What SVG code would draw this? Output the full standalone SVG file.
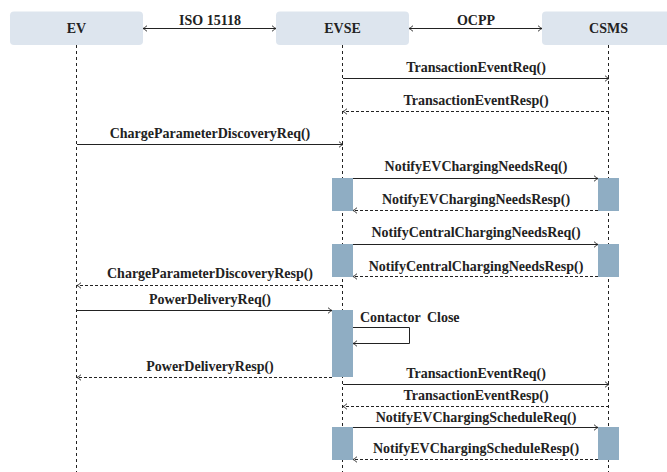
<svg xmlns="http://www.w3.org/2000/svg" width="667" height="472" viewBox="0 0 667 472">
  <defs>
    <style>
      .hdr { fill: #dde5ee; }
      .act { fill: #8fadc3; }
      .life { stroke: #222; stroke-width: 1; stroke-dasharray: 3 3; fill: none; }
      .msg { stroke: #222; stroke-width: 1; fill: none; marker-end: url(#tip); }
      .ret { stroke: #222; stroke-width: 1; fill: none; stroke-dasharray: 3 2; marker-end: url(#tip); }
      .both { stroke: #222; stroke-width: 1; fill: none; marker-start: url(#tip); marker-end: url(#tip); }
      text { font-family: "Liberation Serif", "Times New Roman", serif; font-weight: bold; font-size: 14px; fill: #222; }
      .c { text-anchor: middle; }
    </style>
    <marker id="tip" markerUnits="userSpaceOnUse" viewBox="-5 -4 6 8" refX="0" refY="0" markerWidth="6" markerHeight="8" orient="auto-start-reverse">
      <path d="M-4,-2.8 Q-1.5,-0.6 0,0 Q-1.5,0.6 -4,2.8" fill="none" stroke="#222" stroke-width="0.9"/>
    </marker>
  </defs>

  <!-- lifelines -->
  <g id="lifelines">
    <line class="life" x1="76.5" y1="45" x2="76.5" y2="472"/>
    <line class="life" x1="342.5" y1="45" x2="342.5" y2="472"/>
    <line class="life" x1="608.5" y1="45" x2="608.5" y2="472"/>
  </g>

  <!-- participants -->
  <g id="ev">
    <rect class="hdr" x="10" y="11.5" width="133" height="33.5" rx="4"/>
    <text class="c" x="76.5" y="33">EV</text>
  </g>
  <g id="evse">
    <rect class="hdr" x="276" y="11.5" width="133" height="33.5" rx="4"/>
    <text class="c" x="342.5" y="33">EVSE</text>
    <rect class="act" x="332" y="178" width="21" height="33"/>
    <rect class="act" x="332" y="244" width="21" height="33"/>
    <rect class="act" x="332" y="310" width="21" height="67"/>
    <rect class="act" x="332" y="427" width="21" height="33"/>
  </g>
  <g id="csms">
    <rect class="hdr" x="542" y="11.5" width="133" height="33.5" rx="4"/>
    <text class="c" x="608.5" y="33">CSMS</text>
    <rect class="act" x="598" y="178" width="21" height="33"/>
    <rect class="act" x="598" y="244" width="21" height="33"/>
    <rect class="act" x="598" y="427" width="21" height="33"/>
  </g>

  <!-- connectors -->
  <g id="connectors">
    <line class="both" x1="143" y1="28.5" x2="276" y2="28.5"/>
    <text class="c" x="210" y="25">ISO 15118</text>
    <line class="both" x1="409" y1="28.5" x2="542" y2="28.5"/>
    <text class="c" x="476" y="25">OCPP</text>

    <line class="msg" x1="343" y1="78.5" x2="609" y2="78.5"/>
    <text class="c" x="476" y="72">TransactionEventReq()</text>
    <line class="ret" x1="609" y1="111.5" x2="343" y2="111.5"/>
    <text class="c" x="476" y="105">TransactionEventResp()</text>

    <line class="msg" x1="77" y1="144.5" x2="343" y2="144.5"/>
    <text class="c" x="210" y="138">ChargeParameterDiscoveryReq()</text>

    <line class="msg" x1="353" y1="178.5" x2="598" y2="178.5"/>
    <text class="c" x="476" y="171">NotifyEVChargingNeedsReq()</text>
    <line class="ret" x1="598" y1="210.5" x2="353" y2="210.5"/>
    <text class="c" x="476" y="204">NotifyEVChargingNeedsResp()</text>

    <line class="msg" x1="353" y1="244.5" x2="598" y2="244.5"/>
    <text class="c" x="476" y="237">NotifyCentralChargingNeedsReq()</text>
    <line class="ret" x1="598" y1="276.5" x2="353" y2="276.5"/>
    <text class="c" x="476" y="271">NotifyCentralChargingNeedsResp()</text>

    <line class="ret" x1="343" y1="285.5" x2="77" y2="285.5"/>
    <text class="c" x="210" y="278">ChargeParameterDiscoveryResp()</text>

    <line class="msg" x1="77" y1="310.5" x2="332" y2="310.5"/>
    <text class="c" x="210" y="304">PowerDeliveryReq()</text>

    <text x="360" y="322" style="word-spacing: 3px">Contactor Close</text>
    <polyline class="msg" points="353,327.5 409.5,327.5 409.5,343.5 353,343.5"/>

    <line class="ret" x1="332" y1="377.5" x2="77" y2="377.5"/>
    <text class="c" x="210" y="371">PowerDeliveryResp()</text>

    <line class="msg" x1="343" y1="384.5" x2="609" y2="384.5"/>
    <text class="c" x="476" y="378">TransactionEventReq()</text>
    <line class="ret" x1="609" y1="406.5" x2="343" y2="406.5"/>
    <text class="c" x="476" y="400">TransactionEventResp()</text>

    <line class="msg" x1="353" y1="427.5" x2="598" y2="427.5"/>
    <text class="c" x="476" y="422">NotifyEVChargingScheduleReq()</text>
    <line class="ret" x1="598" y1="459.5" x2="353" y2="459.5"/>
    <text class="c" x="476" y="453">NotifyEVChargingScheduleResp()</text>
  </g>
</svg>
